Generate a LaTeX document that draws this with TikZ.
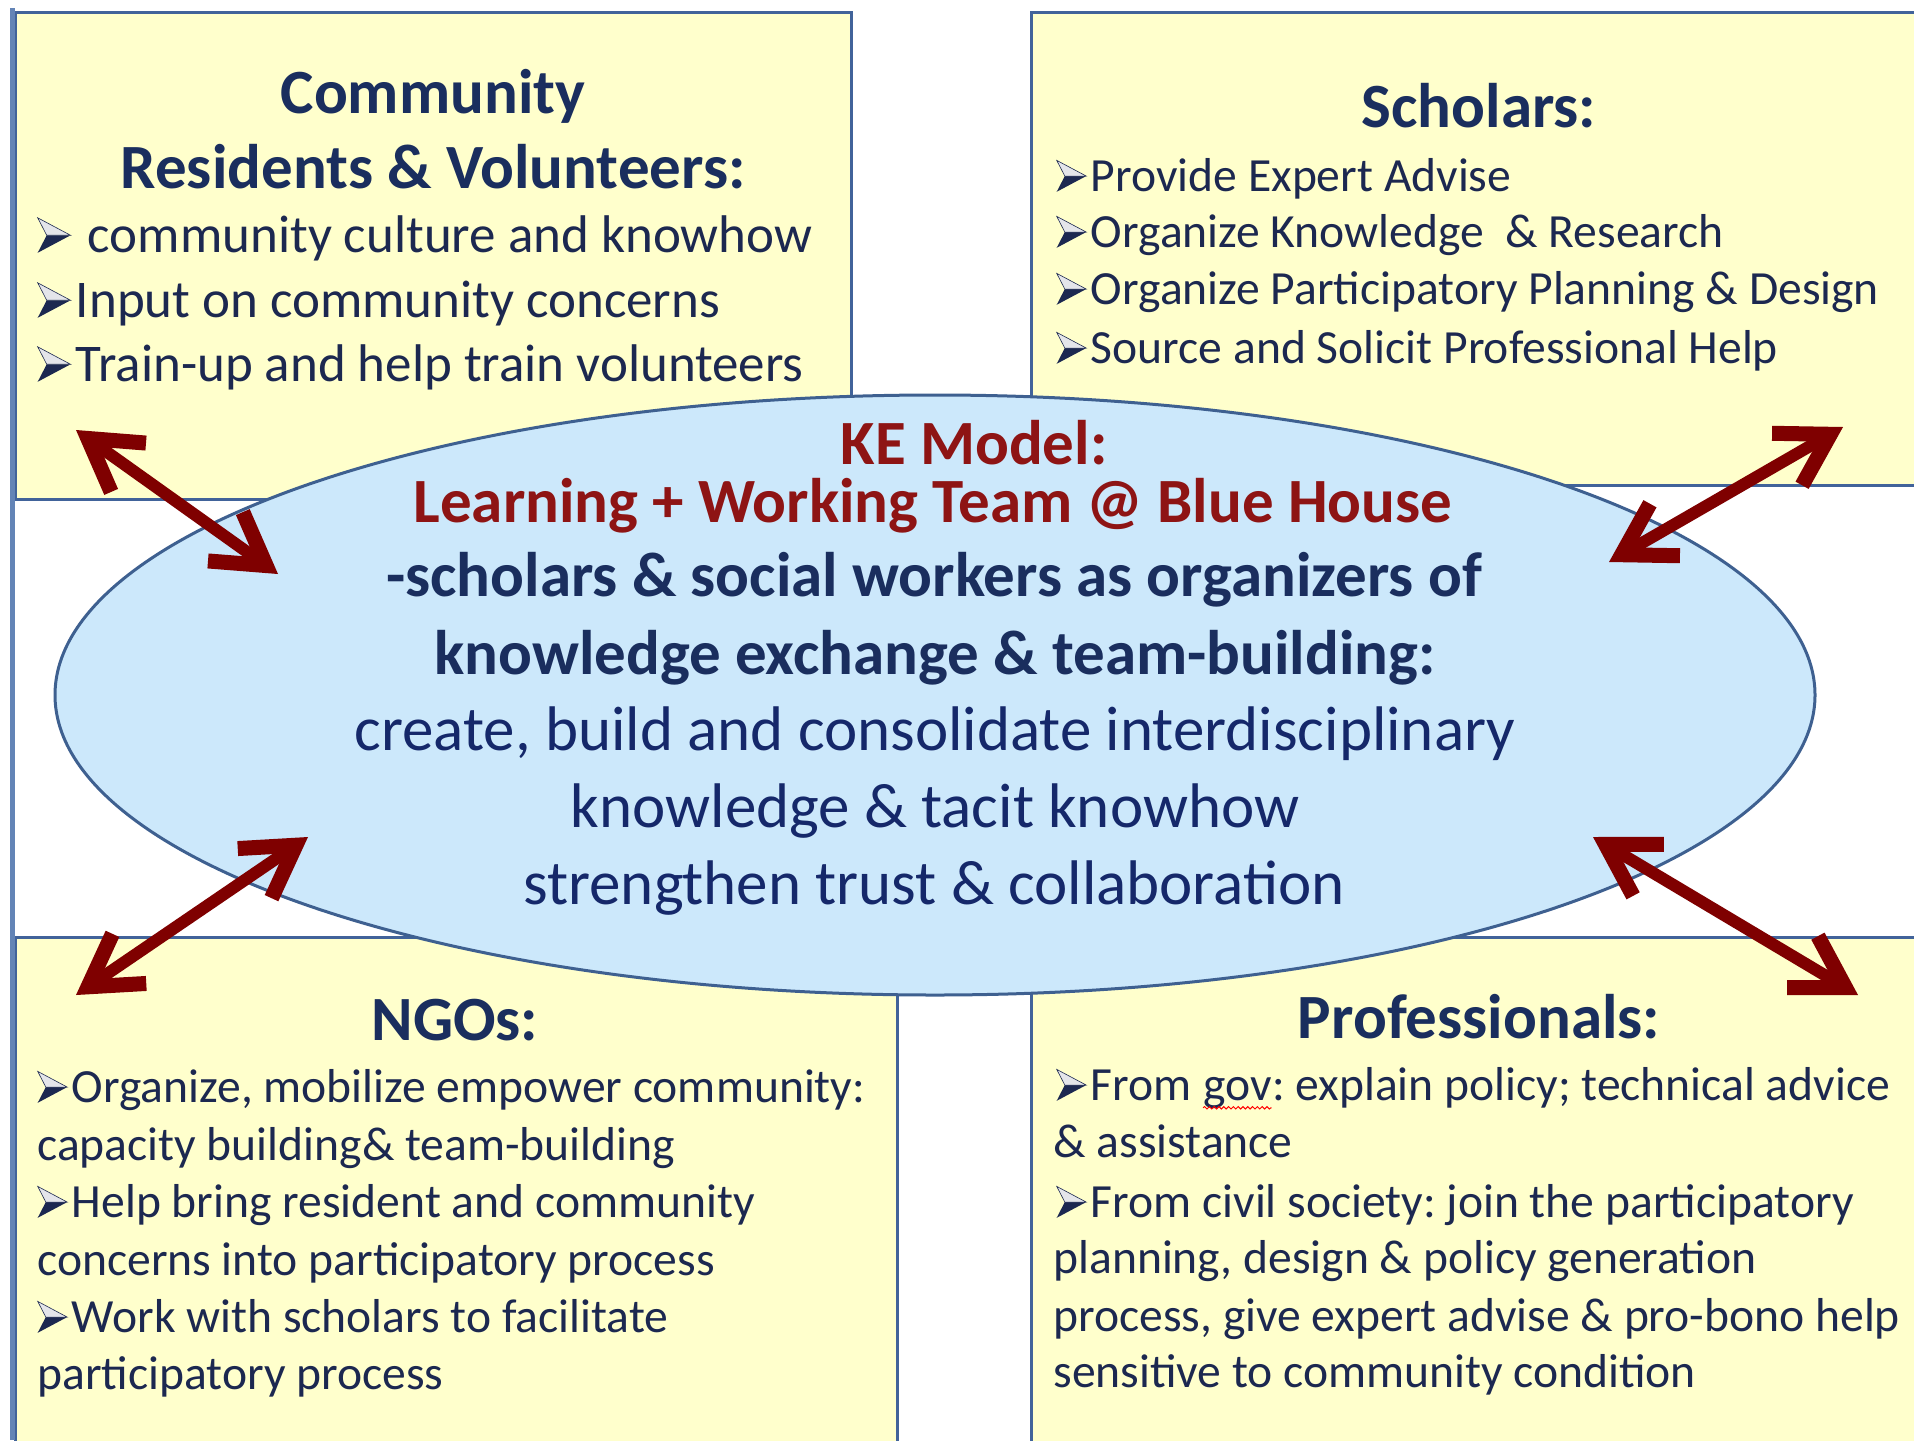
\documentclass[tikz,border=0pt]{standalone}
\usepackage{fontspec}
\setmainfont{Carlito}
\usetikzlibrary{arrows.meta,shapes.geometric,decorations.pathmorphing}
\definecolor{boxfill}{HTML}{FFFFCC}
\definecolor{boxline}{HTML}{41639A}
\definecolor{leftline}{HTML}{6384B6}
\definecolor{ellfill}{HTML}{CCE8FB}
\definecolor{ellline}{HTML}{3E6090}
\definecolor{arrowred}{HTML}{7F0000}
\definecolor{ered}{HTML}{8E1414}
\definecolor{navy}{HTML}{1A2E5E}
\definecolor{ink}{HTML}{1C2850}
\definecolor{eink}{HTML}{15286A}
\newcommand{\bul}{\tikz[baseline=0pt,x=1em,y=1em]{%
  \fill[ink] (0,0) -- (0.62,0.33) -- (0.17,0.33) -- cycle;
  \filldraw[fill=ink!12, draw=ink, line width=0.3pt] (0,0.66) -- (0.62,0.33) -- (0.17,0.33) -- cycle;
  \path (0.72,0);}}
\newcommand{\spellerr}[1]{\tikz[baseline=(w.base)]{\node[inner sep=0pt,outer sep=0pt](w){#1};\draw[red,line width=0.5pt,decorate,decoration={snake,amplitude=0.6pt,segment length=2.4pt}]([yshift=-3.5pt]w.base west)--([yshift=-3.5pt]w.base east);}}
\tikzset{
  box/.style={draw=boxline, fill=boxfill, line width=1.5pt},
  ttl/.style={font=\fontsize{31.5}{36}\selectfont\bfseries, text=navy, anchor=mid, inner sep=0pt},
  itm/.style={font=\fontsize{23.8}{28}\selectfont, text=ink, anchor=mid west, inner sep=0pt},
  itmL/.style={itm, font=\fontsize{26.5}{30}\selectfont},
  ell/.style={font=\fontsize{31.5}{36}\selectfont, text=eink, anchor=mid, inner sep=0pt},
  ellb/.style={ell, text=navy, font=\fontsize{31.5}{36}\selectfont\bfseries},
  ellr/.style={ellb, text=ered},
  barb/.tip={Straight Barb[length=25pt,width=30pt,line width=0pt 1.25]},
  link/.style={draw=arrowred, line width=6pt, barb-barb},
}
\begin{document}
\frenchspacing
\begin{tikzpicture}[x=0.5pt,y=-0.5pt]
\useasboundingbox (0,0) rectangle (1914,1440);
\clip (0,0) rectangle (1914,1440);
\fill[white] (0,0) rectangle (1914,1440);
% boxes
\draw[box] (15,12) rectangle (851,499);
\draw[box] (1031,12) rectangle (1930,485);
\draw[box] (15,937) rectangle (897,1460);
\draw[box] (1031,937) rectangle (1930,1460);
\draw[leftline, line width=2.5pt] (12,8) -- (12,1440);
% central ellipse
\node[ellipse, draw=ellline, fill=ellfill, line width=1.5pt, minimum width=880pt, minimum height=300pt, inner sep=0pt] (ke) at (935,695) {};
% top-left box
\node[ttl] (t1a) at (433,109) {Community};
\node[ttl] (t1b) at (433,184) {Residents \& Volunteers:};
\node[itmL] (t1i1) at (37,248) {\bul\ community culture and knowhow};
\node[itmL] (t1i2) at (37,313) {\bul Input on community concerns};
\node[itmL] (t1i3) at (37,377) {\bul Train-up and help train volunteers};
% top-right box
\node[ttl] (t2) at (1479,123) {Scholars:};
\node[itm] (t2i1) at (1056,187) {\bul Provide Expert Advise};
\node[itm] (t2i2) at (1056,243) {\bul Organize Knowledge\ \ \& Research};
\node[itm] (t2i3) at (1056,300) {\bul Organize Participatory Planning \& Design};
\node[itm] (t2i4) at (1056,359) {\bul Source and Solicit Professional Help};
% bottom-left box
\node[ttl] (t3) at (455,1036) {NGOs:};
\node[itm] (t3i1) at (37,1098) {\bul Organize, mobilize empower community:};
\node[itm] (t3i2) at (37,1156) {capacity building\& team-building};
\node[itm] (t3i3) at (37,1213) {\bul Help bring resident and community};
\node[itm] (t3i4) at (37,1271) {concerns into participatory process};
\node[itm] (t3i5) at (37,1328) {\bul Work with scholars to facilitate};
\node[itm] (t3i6) at (37,1385) {participatory process};
% bottom-right box
\node[ttl] (t4) at (1479,1034) {Professionals:};
\node[itm] (t4i1) at (1056,1096) {\bul From \spellerr{gov}: explain policy; technical advice};
\node[itm] (t4i2) at (1053,1153) {\& assistance};
\node[itm] (t4i3) at (1056,1213) {\bul From civil society: join the participatory};
\node[itm] (t4i4) at (1053,1269) {planning, design \& policy generation};
\node[itm] (t4i5) at (1053,1327) {process, give expert advise \& pro-bono help};
\node[itm] (t4i6) at (1053,1383) {sensitive to community condition};
% ellipse text
\node[ellr] (e1) at (974,460) {KE Model:};
\node[ellr] (e2) at (933,518) {Learning + Working Team @ Blue House};
\node[ellb] (e3) at (934,592) {-scholars \& social workers as organizers of};
\node[ellb] (e4) at (935,670) {knowledge exchange \& team-building:};
\node[ell] (e5) at (935,746) {create, build and consolidate interdisciplinary};
\node[ell] (e6) at (935,823) {knowledge \& tacit knowhow};
\node[ell] (e7) at (934,900) {strengthen trust \& collaboration};
% arrows
\coordinate (a1s) at (76,430);   \coordinate (a1e) at (278,574);
\coordinate (a2s) at (1609,562); \coordinate (a2e) at (1843,427);
\coordinate (a3s) at (76,995);   \coordinate (a3e) at (308,837);
\coordinate (a4s) at (1593,837); \coordinate (a4e) at (1858,995);
\draw[link] (a1s) -- (a1e);
\draw[link] (a2s) -- (a2e);
\draw[link] (a3s) -- (a3e);
\draw[link] (a4s) -- (a4e);
\end{tikzpicture}
\end{document}
